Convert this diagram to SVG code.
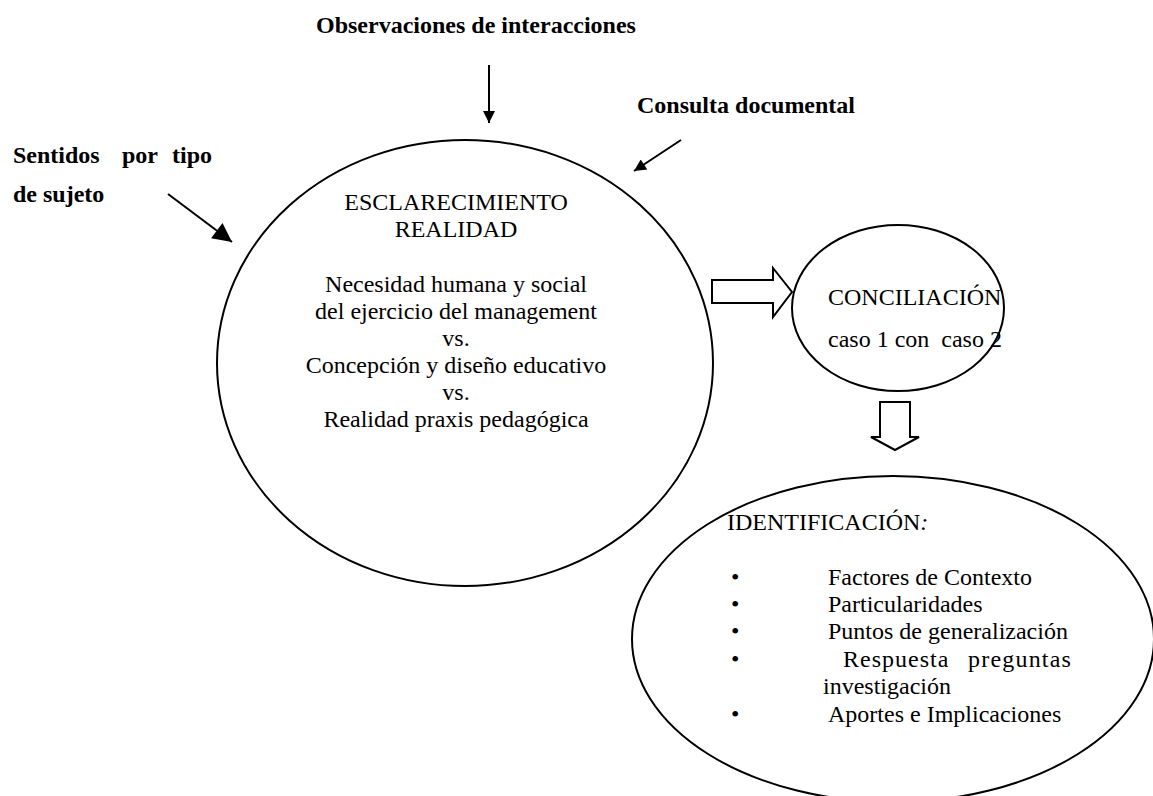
<svg xmlns="http://www.w3.org/2000/svg" width="1153" height="796" viewBox="0 0 1153 796">
  <style>
    text { font-family: "Liberation Serif", "Times New Roman", serif; font-size: 24px; fill: #000; }
    .bold { font-weight: bold; }
    .shape { fill: none; stroke: #000; stroke-width: 2; }
    .block { fill: #fff; stroke: #000; stroke-width: 2; stroke-linejoin: miter; }
    .line { fill: none; stroke: #000; stroke-width: 2; }
  </style>
  <defs>
    <marker id="headSmall" viewBox="0 0 10 10" refX="10" refY="5" markerUnits="userSpaceOnUse" markerWidth="14" markerHeight="12" orient="auto">
      <path d="M0,0 L10,5 L0,10 z" fill="#000"/>
    </marker>
    <marker id="headLarge" viewBox="0 0 10 10" refX="10" refY="5" markerUnits="userSpaceOnUse" markerWidth="20" markerHeight="19" orient="auto">
      <path d="M0,0 L10,5 L0,10 z" fill="#000"/>
    </marker>
  </defs>

  <rect x="0" y="0" width="1153" height="796" fill="#fff"/>

  <!-- input labels -->
  <g id="observaciones">
    <text class="bold" x="476" y="33" text-anchor="middle">Observaciones de interacciones</text>
  </g>
  <g id="consulta">
    <text class="bold" x="637" y="113">Consulta documental</text>
  </g>
  <g id="sentidos">
    <text class="bold" y="163"><tspan x="13">Sentidos</tspan><tspan x="122">por</tspan><tspan x="172">tipo</tspan></text>
    <text class="bold" x="13" y="202">de sujeto</text>
  </g>

  <!-- central node -->
  <g id="esclarecimiento">
    <ellipse class="shape" cx="465" cy="363" rx="248" ry="223"/>
    <text x="456" y="210" text-anchor="middle">ESCLARECIMIENTO</text>
    <text x="456" y="237" text-anchor="middle">REALIDAD</text>
    <text x="456" y="292" text-anchor="middle">Necesidad humana y social</text>
    <text x="456" y="319" text-anchor="middle">del ejercicio del management</text>
    <text x="456" y="346" text-anchor="middle">vs.</text>
    <text x="456" y="373" text-anchor="middle">Concepción y diseño educativo</text>
    <text x="456" y="400" text-anchor="middle">vs.</text>
    <text x="456" y="427" text-anchor="middle">Realidad praxis pedagógica</text>
  </g>

  <g id="conciliacion">
    <ellipse class="shape" cx="898" cy="308" rx="106" ry="83"/>
    <text x="828" y="305">CONCILIACIÓN</text>
    <text x="828" y="347" xml:space="preserve">caso 1 con  caso 2</text>
  </g>

  <g id="identificacion">
    <ellipse class="shape" cx="893" cy="639" rx="261" ry="163"/>
    <text x="727" y="530">IDENTIFICACIÓN<tspan font-style="italic">:</tspan></text>
    <text x="731" y="585">•</text>
    <text x="828" y="585">Factores de Contexto</text>
    <text x="731" y="612">•</text>
    <text x="828" y="612">Particularidades</text>
    <text x="731" y="639">•</text>
    <text x="828" y="639">Puntos de generalización</text>
    <text x="731" y="667">•</text>
    <text x="843" y="667" letter-spacing="1">Respuesta</text>
    <text x="968" y="667" letter-spacing="1.2">preguntas</text>
    <text x="823" y="694">investigación</text>
    <text x="731" y="722">•</text>
    <text x="828" y="722">Aportes e Implicaciones</text>
  </g>

  <!-- connectors -->
  <g id="connectors">
    <line class="line" x1="489" y1="65" x2="489" y2="123" marker-end="url(#headSmall)"/>
    <line class="line" x1="681" y1="140" x2="634" y2="171" marker-end="url(#headSmall)"/>
    <line class="line" x1="168" y1="194" x2="232" y2="242" marker-end="url(#headLarge)"/>
    <polygon class="block" points="712,280 773,280 773,268 792,292 773,317 773,303 712,303"/>
    <polygon class="block" points="880,402 910,402 910,437 919,437 895,450 871,437 880,437"/>
  </g>
</svg>
